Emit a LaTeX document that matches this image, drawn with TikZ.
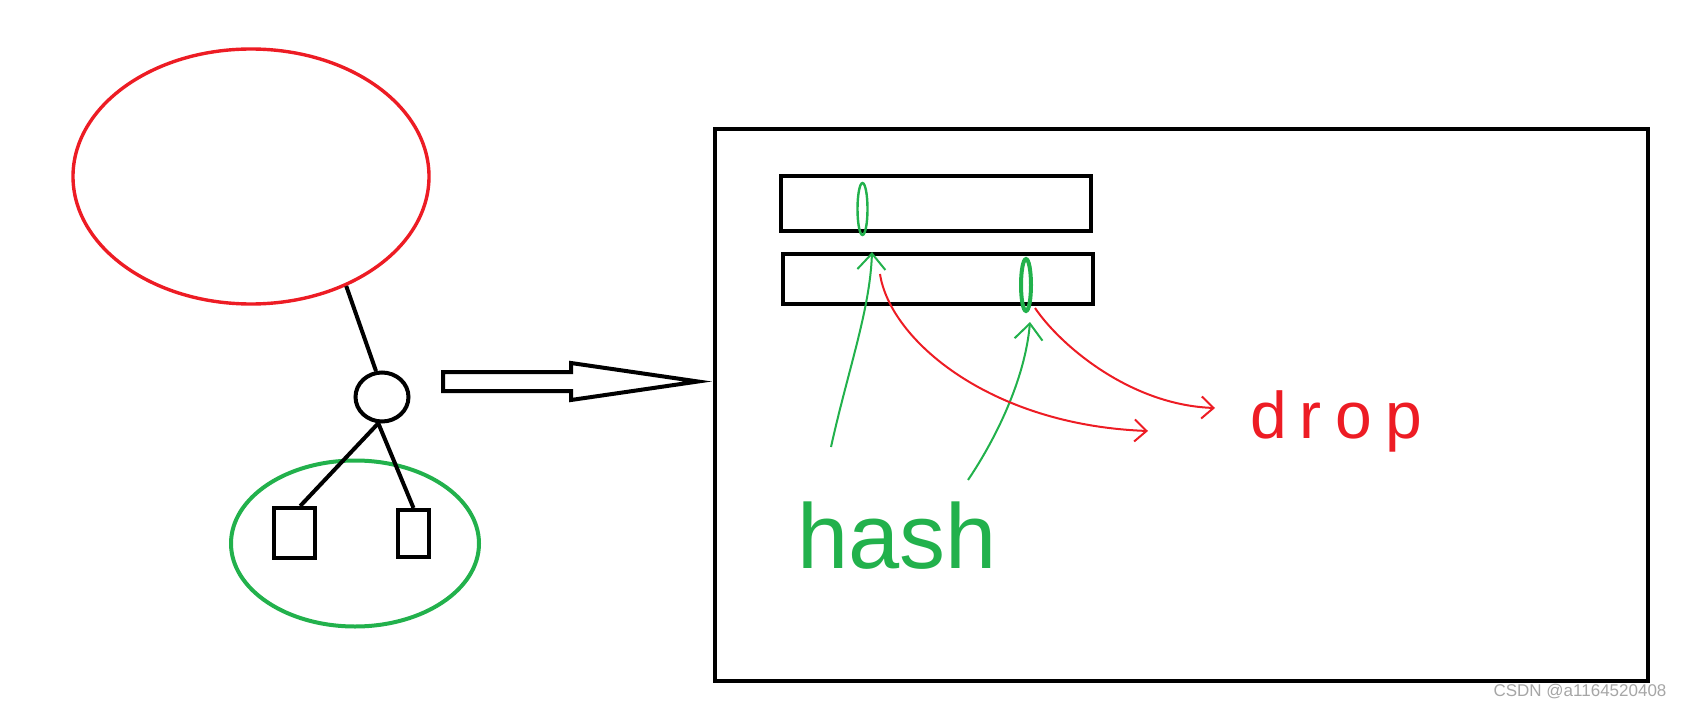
\documentclass[tikz,border=0pt]{standalone}
\usepackage{fontspec}
\setmainfont{Liberation Sans}
\usetikzlibrary{arrows.meta,shapes.geometric}
\definecolor{paintred}{RGB}{237,28,36}
\definecolor{paintgreen}{RGB}{34,177,76}

\begin{document}
\begin{tikzpicture}[
    x=0.5pt, y=-0.5pt,
    tree edge/.style={line width=2pt, draw=black},
    leaf node/.style={rectangle, draw=black, line width=2pt, inner sep=0pt},
    bucket node/.style={rectangle, draw=black, line width=2pt, inner sep=0pt, minimum width=155pt},
    slot node/.style={ellipse, draw=paintgreen, inner sep=0pt, minimum width=5pt, minimum height=26pt},
    hash edge/.style={draw=paintgreen, line width=1pt, -{Straight Barb[length=8pt,width=14pt]}},
    drop edge/.style={draw=paintred, line width=1pt, -{Straight Barb[length=6pt,width=11pt]}}
]
\useasboundingbox (0,0) rectangle (1682,706);

% 左边的树
\node[ellipse, draw=paintred, line width=1.7pt, inner sep=0pt, minimum width=178pt, minimum height=127.5pt] (rootset) at (251,176.5) {};
\node[ellipse, draw=black, line width=2pt, inner sep=0pt, minimum width=26.5pt, minimum height=24.5pt] (parent) at (382,397) {};
\node[leaf node, minimum width=20.5pt, minimum height=25pt] (leafA) at (294.5,533) {};
\node[leaf node, minimum width=15.5pt, minimum height=23.5pt] (leafB) at (413.5,533.5) {};
\node[ellipse, draw=paintgreen, line width=2pt, inner sep=0pt, minimum width=124pt, minimum height=83pt] (group) at (355,543.5) {};

\draw[tree edge] (rootset.-49) -- (parent.103);
\draw[tree edge] (parent.-98) -- (leafA.78);
\draw[tree edge] (parent.-98) -- (leafB.north);

% 空心箭头
\draw[line width=2pt] (443,372) -- (571,372) -- (571,363) -- (698,381.5) -- (571,400) -- (571,391) -- (443,391) -- cycle;

% 右边的表
\node[rectangle, draw=black, line width=2pt, inner sep=0pt, minimum width=466.5pt, minimum height=276pt] (table) at (1181.5,405) {};
\node[bucket node, minimum height=27.5pt] (rowA) at (936,203.5) {};
\node[bucket node, minimum height=25pt] (rowB) at (937.5,279) {};
\node[slot node, line width=1.2pt] (slotA) at (862.5,209) {};
\node[slot node, line width=2pt] (slotB) at (1026,285) {};

\node[text=paintgreen, font=\fontsize{46}{50}\selectfont, anchor=base] (hash) at (897,568) {hash};
\node[text=paintred, font=\fontsize{33}{36}\selectfont\addfontfeature{LetterSpace=20}, anchor=base] (drop) at (1336,438) {drop};

% 连线
\coordinate (hA) at (831,447);
\coordinate (hB) at (968,480);
\coordinate (tA) at (872,252);
\coordinate (tB) at (1030,322);
\coordinate (dA) at (880,274);
\coordinate (dB) at (1035,308);
\coordinate (eA) at (1148,431);
\coordinate (eB) at (1215,408);

\draw[hash edge] (hA) .. controls (848,370) and (870,310) .. (tA);
\draw[hash edge] (hB) .. controls (995,440) and (1025,380) .. (tB);
\draw[drop edge] (dA) .. controls (890,340) and (990,425) .. (eA);
\draw[drop edge] (dB) .. controls (1060,345) and (1130,405) .. (eB);

\node[text=gray!70, font=\fontsize{8.5}{10}\selectfont, anchor=base] (mark) at (1580,696) {CSDN @a1164520408};

\end{tikzpicture}
\end{document}
